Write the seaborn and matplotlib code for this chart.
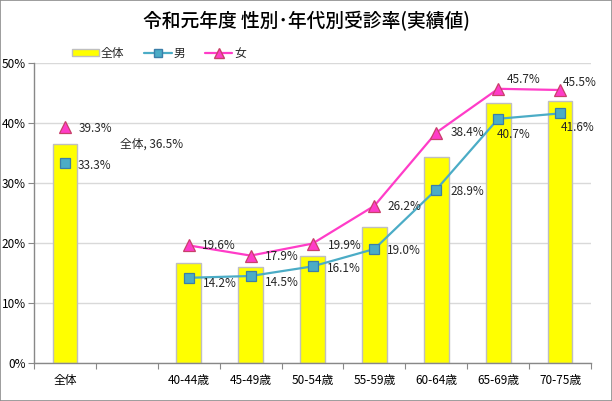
import numpy as np
import pandas as pd
import matplotlib
matplotlib.use("Agg")
import matplotlib.pyplot as plt
from matplotlib.patches import Patch, Rectangle
from matplotlib.lines import Line2D
import seaborn as sns

# ---- data ----
categories = ["全体", "", "40-44歳", "45-49歳", "50-54歳", "55-59歳", "60-64歳", "65-69歳", "70-75歳"]
total = [36.5, np.nan, 16.6, 16.0, 17.9, 22.7, 34.4, 43.4, 43.7]
male = [33.3, np.nan, 14.2, 14.5, 16.1, 19.0, 28.9, 40.7, 41.6]
female = [39.3, np.nan, 19.6, 17.9, 19.9, 26.2, 38.4, 45.7, 45.5]
segments = ["all", "none", "age", "age", "age", "age", "age", "age", "age"]
title = "令和元年度 性別･年代別受診率(実績値)"
yticks = [0, 10, 20, 30, 40, 50]

# ---- style ----
sns.set_theme(style="white")
plt.rcParams["font.family"] = ["Noto Sans CJK JP", "DejaVu Sans"]

C_BAR = "#ffff00"
C_BAR_EDGE = "#bfbfbf"
C_MALE = "#4bacc6"
C_MALE_EDGE = "#3b7ea8"
C_FEM = "#ff3cc8"
C_FEM_EDGE = "#c8406a"
FS = 8.5

fig = plt.figure(figsize=(6.12, 4.01), dpi=100)
ax = fig.add_axes([34 / 612, 1 - 363 / 401, (591 - 34) / 612, 300 / 401])

df_bar = pd.DataFrame({"cat": categories, "total": total})
sns.barplot(data=df_bar, x="cat", y="total", order=categories, color=C_BAR,
            saturation=1, edgecolor=C_BAR_EDGE, linewidth=1.0, width=0.4,
            errorbar=None, ax=ax, zorder=2)

idx = np.arange(len(categories))
df_line = pd.DataFrame({"x": idx, "male": male, "female": female, "seg": segments}).dropna()

sns.lineplot(data=df_line, x="x", y="male", units="seg", estimator=None,
             color=C_MALE, lw=1.6, marker="s", markersize=7,
             markerfacecolor=C_MALE, markeredgecolor=C_MALE_EDGE, markeredgewidth=0.9,
             ax=ax, zorder=4)
sns.lineplot(data=df_line, x="x", y="female", units="seg", estimator=None,
             color=C_FEM, lw=1.6, marker="^", markersize=8,
             markerfacecolor=C_FEM, markeredgecolor=C_FEM_EDGE, markeredgewidth=0.9,
             ax=ax, zorder=5)

# ---- axes ----
ax.set_xlim(-0.5, len(categories) - 0.5)
ax.set_ylim(0, 50)
ax.set_yticks(yticks)
ax.set_yticklabels([f"{v}%" for v in yticks])
ax.set_xticks(idx)
ax.set_xticklabels(categories)
ax.set_xticks(np.arange(-0.5, len(categories), 1), minor=True)
ax.tick_params(axis="x", which="major", length=0, pad=8, labelsize=FS, labelcolor="black")
ax.tick_params(axis="x", which="minor", length=4, width=0.8, color="#888888", direction="out", bottom=True)
ax.tick_params(axis="y", which="major", length=4, width=0.8, color="#888888", direction="out",
               left=True, labelsize=FS, labelcolor="black", pad=2)
ax.set_xlabel("")
ax.set_ylabel("")
ax.yaxis.grid(True, color="#d9d9d9", lw=1.0, zorder=0)
ax.set_axisbelow(True)
for s in ["top", "right"]:
    ax.spines[s].set_visible(False)
for s in ["left", "bottom"]:
    ax.spines[s].set_color("#888888")
    ax.spines[s].set_linewidth(1.0)
ax.set_facecolor("white")

# ---- data labels (offsets in pixels: dx right, dy down) ----
px = 0.72
fem_off = [(14, 1), None, (13, 0), (14, 1), (15, 2), (13, 1), (14, 0), (9, -9), (3, -7)]
male_off = [(13, 2), None, (14, 6), (14, 6), (14, 2), (13, 2), (14, 2), (-1, 16), (1, 14)]
for i in idx:
    if fem_off[i] is not None:
        dx, dy = fem_off[i]
        ax.annotate(f"{female[i]:.1f}%", (i, female[i]), xytext=(dx * px, -dy * px),
                    textcoords="offset points", ha="left", va="center", fontsize=FS, zorder=6)
    if male_off[i] is not None:
        dx, dy = male_off[i]
        ax.annotate(f"{male[i]:.1f}%", (i, male[i]), xytext=(dx * px, -dy * px),
                    textcoords="offset points", ha="left", va="center", fontsize=FS, zorder=6)
ax.annotate(f"{categories[0]}, {total[0]:.1f}%", (0, total[0]), xytext=(55 * px, 0),
            textcoords="offset points", ha="left", va="center", fontsize=FS, zorder=6)

# ---- title & legend ----
fig.text(306 / 612, 1 - 21 / 401, title, ha="center", va="center", fontsize=13.5,
         color="black", fontweight="medium")
handles = [
    Patch(facecolor=C_BAR, edgecolor=C_BAR_EDGE, linewidth=1.0),
    Line2D([], [], color=C_MALE, lw=1.6, marker="s", markersize=6,
           markerfacecolor=C_MALE, markeredgecolor=C_MALE_EDGE),
    Line2D([], [], color=C_FEM, lw=1.6, marker="^", markersize=7,
           markerfacecolor=C_FEM, markeredgecolor=C_FEM_EDGE),
]
fig.legend(handles, ["全体", "男", "女"], ncol=3, loc="center left",
           bbox_to_anchor=(72 / 612, 1 - 53 / 401), frameon=False, fontsize=FS,
           handlelength=2.3, handleheight=0.5, handletextpad=0.15, columnspacing=1.7,
           borderaxespad=0, borderpad=0)

# figure border
fig.patches.append(Rectangle((0.0008, 0.0012), 0.9984, 0.9976, transform=fig.transFigure,
                             fill=False, edgecolor="#8c8c8c", lw=1.2))

fig.savefig("out.png", dpi=100, facecolor="white")
